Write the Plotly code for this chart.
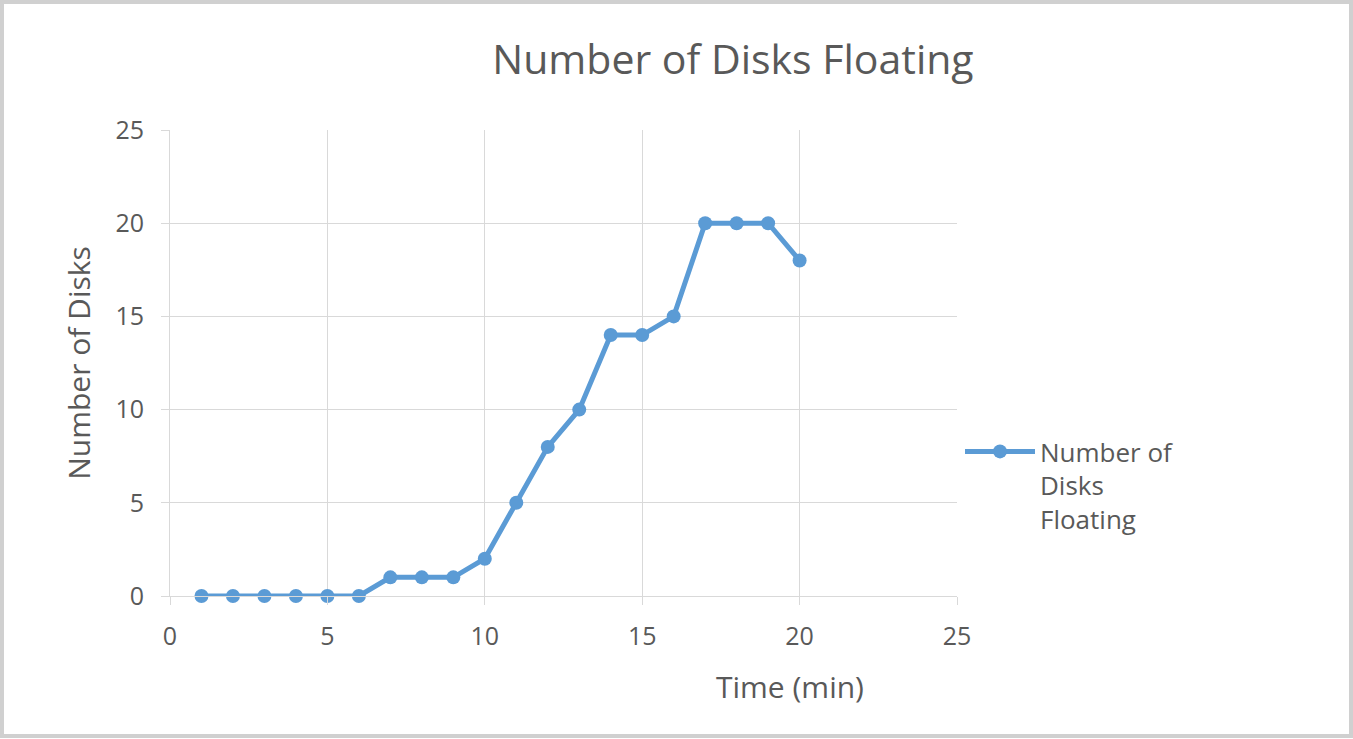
import plotly.graph_objects as go

time_min = list(range(1, 21))
disks = [0, 0, 0, 0, 0, 0, 1, 1, 1, 2, 5, 8, 10, 14, 14, 15, 20, 20, 20, 18]
series_name = "Number of<br>Disks<br>Floating"
title = "Number of Disks Floating"
x_title = "Time (min)"
y_title = "Number of Disks"

W, H = 1353, 739
L, R, T, B = 170, 957, 130, 596

fig = go.Figure()
fig.add_trace(go.Scatter(
    x=time_min, y=disks, mode="lines+markers", name=series_name,
    line=dict(color="#5b9bd5", width=5),
    marker=dict(color="#5b9bd5", size=14),
    cliponaxis=False,
))

font = "Open Sans"
grid = "#d9d9d9"
txt = "#595959"
pw = R - L
ph = B - T

fig.update_layout(
    width=W, height=H,
    margin=dict(l=L, r=W - R, t=T, b=H - B, autoexpand=False),
    paper_bgcolor="white", plot_bgcolor="white",
    font=dict(family=font, color=txt, size=25),
    title=dict(text=title, x=733 / W, xanchor="center", y=1 - 60 / H, yanchor="middle",
               font=dict(size=41, color=txt, family=font)),
    showlegend=True,
    legend=dict(x=(960 - L) / pw, y=(B - 428) / ph, xanchor="left", yanchor="top",
                valign="top", font=dict(size=26, color=txt, family=font),
                bgcolor="rgba(0,0,0,0)", itemwidth=70),
    xaxis=dict(range=[0, 25], dtick=5, tick0=0, showgrid=True, gridcolor=grid, gridwidth=1,
               showline=True, linecolor=grid, linewidth=1, zeroline=False,
               ticks="outside", ticklen=8, tickcolor=grid, ticklabelstandoff=10,
               tickfont=dict(size=25, color=txt)),
    yaxis=dict(range=[0, 25], dtick=5, tick0=0, showgrid=True, gridcolor=grid, gridwidth=1,
               showline=True, linecolor=grid, linewidth=1, zeroline=False,
               ticks="outside", ticklen=8, tickcolor=grid, ticklabelstandoff=12,
               tickfont=dict(size=25, color=txt),
               title=dict(text=y_title, font=dict(size=30, color=txt), standoff=15)),
    annotations=[dict(text=x_title, xref="paper", yref="paper",
                      x=(790 - L) / pw, y=(B - 686) / ph, xanchor="center", yanchor="middle",
                      showarrow=False, font=dict(size=30, color=txt, family=font))],
    shapes=[dict(type="rect", xref="paper", yref="paper",
                 x0=(-L + 2) / pw, x1=(W - L - 2) / pw,
                 y0=(B - H + 3) / ph, y1=(B - 2) / ph,
                 line=dict(color="#d0d0d0", width=4), fillcolor="rgba(0,0,0,0)", layer="below")],
)

fig.write_html("out.html", config={"displayModeBar": False},
               post_script="document.body.style.margin='0px';document.body.style.overflow='hidden';")
